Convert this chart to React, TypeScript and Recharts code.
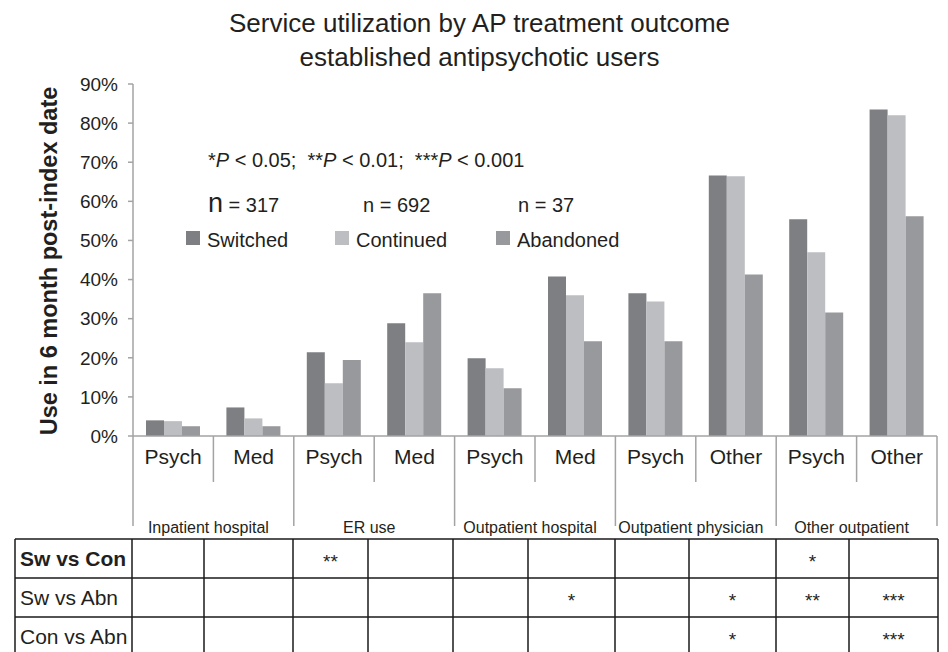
import React from 'react';
import { BarChart, Bar, XAxis, YAxis, Legend } from 'recharts';

// ---------- data ----------
const subCategories = ['Psych', 'Med', 'Psych', 'Med', 'Psych', 'Med', 'Psych', 'Other', 'Psych', 'Other'];
const groups = ['Inpatient hospital', 'ER use', 'Outpatient hospital', 'Outpatient physician', 'Other outpatient'];
const groupIndex = [0, 0, 1, 1, 2, 2, 3, 3, 4, 4];
const switched = [4.0, 7.3, 21.4, 28.8, 19.9, 40.8, 36.5, 66.6, 55.4, 83.5];
const continued = [3.8, 4.5, 13.5, 24.0, 17.3, 36.0, 34.4, 66.4, 47.0, 82.0];
const abandoned = [2.5, 2.5, 19.4, 36.5, 12.2, 24.2, 24.2, 41.3, 31.6, 56.2];
const yTicks = [0, 10, 20, 30, 40, 50, 60, 70, 80, 90];
const seriesNames = ['Switched', 'Continued', 'Abandoned'];
const sampleSizes = ['317', '692', '37'];
const comparisonLabels = ['Sw vs Con', 'Sw vs Abn', 'Con vs Abn'];
const sigSwCon = ['', '', '**', '', '', '', '', '', '*', ''];
const sigSwAbn = ['', '', '', '', '', '*', '', '*', '**', '***'];
const sigConAbn = ['', '', '', '', '', '', '', '*', '', '***'];
const titleLines = ['Service utilization by AP treatment outcome', 'established antipsychotic users'];
const yLabel = 'Use in 6 month post-index date';

// ---------- styles / layout ----------
const W = 948;
const H = 652;
const FONT = '"Liberation Sans", Arial, Helvetica, sans-serif';
const COLORS = ['#7e7f83', '#bdbec2', '#98999d'];
const AXIS = '#a3a3a3';
const TEXT = '#231f20';
const Y_AXIS_W = 133;
const RIGHT = 11;
const BAND = (W - Y_AXIS_W - RIGHT) / subCategories.length;
const tableCols = [15, 132, 204, 293, 368, 453, 528, 615, 689, 776, 849, 938];
const tableRows = [539, 578, 617, 656];

const chartData = subCategories.map((sub, i) => ({
  id: `c${i}`,
  sub,
  group: groups[groupIndex[i]],
  switched: switched[i],
  continued: continued[i],
  abandoned: abandoned[i],
}));

function CategoryTick(props: any) {
  const { x, y, index, payload } = props;
  const half = payload && typeof payload.offset === 'number' && payload.offset > 0 ? payload.offset : BAND / 2;
  const isGroupStart = index === 0 || groupIndex[index] !== groupIndex[index - 1];
  const isLast = index === subCategories.length - 1;
  return (
    <g>
      <text x={x} y={y + 28} textAnchor="middle" fontSize={21} fill={TEXT} fontFamily={FONT}>
        {subCategories[index]}
      </text>
      <line x1={x - half} x2={x - half} y1={y} y2={y + (isGroupStart ? 90 : 46)} stroke={AXIS} strokeWidth={1.5} />
      {isLast && <line x1={x + half} x2={x + half} y1={y} y2={y + 90} stroke={AXIS} strokeWidth={1.5} />}
      {isGroupStart && (
        <text x={x + half - 5} y={y + 97} textAnchor="middle" fontSize={16} fill={TEXT} fontFamily={FONT}>
          {groups[groupIndex[index]]}
        </text>
      )}
    </g>
  );
}

const legendOffsets = [0, 149, 310];

function LegendContent(props: any) {
  const payload = [...(props.payload || [])].sort(
    (a: any, b: any) => seriesNames.indexOf(a.value) - seriesNames.indexOf(b.value)
  );
  return (
    <div style={{ position: 'relative', width: 480, height: 20, fontFamily: FONT }}>
      {payload.map((p: any, i: number) => (
        <div
          key={p.value}
          style={{ position: 'absolute', left: legendOffsets[i], top: 0, display: 'flex', alignItems: 'flex-start', height: 20 }}
        >
          <div style={{ width: 14, height: 14, marginTop: 1, background: p.color }} />
          <span style={{ marginLeft: 7, fontSize: 20, lineHeight: '20px', color: TEXT, whiteSpace: 'nowrap' }}>{p.value}</span>
        </div>
      ))}
    </div>
  );
}

export default function App() {
  const sigRows = [sigSwCon, sigSwAbn, sigConAbn];
  const nb = '\u00a0';
  return (
    <div style={{ position: 'absolute', left: 0, top: 0, width: W, height: H, overflow: 'hidden', background: '#fff', fontFamily: FONT }}>
      <BarChart
        width={W}
        height={H}
        data={chartData}
        margin={{ top: 84, right: RIGHT, bottom: 0, left: 0 }}
        barGap={0}
        barSize={18}
      >
        <XAxis
          dataKey="id"
          interval={0}
          height={216}
          tickSize={0}
          tickMargin={0}
          tickLine={false}
          axisLine={{ stroke: AXIS, strokeWidth: 1.5 }}
          tick={(p: any) => <CategoryTick {...p} />}
        />
        <YAxis
          type="number"
          domain={[0, 90]}
          ticks={yTicks}
          interval={0}
          width={Y_AXIS_W}
          tickSize={5}
          tickMargin={10}
          tickFormatter={(v: number) => `${v}%`}
          tick={{ fontSize: 19, fill: TEXT, fontFamily: FONT }}
          axisLine={{ stroke: AXIS, strokeWidth: 1.5 }}
          tickLine={{ stroke: AXIS, strokeWidth: 1.5 }}
        />
        <Legend
          layout="horizontal"
          verticalAlign="middle"
          align="center"
          itemSorter={null as any}
          content={(p: any) => <LegendContent {...p} />}
          wrapperStyle={{ position: 'absolute', left: 186, top: 230, width: 480, height: 20 }}
        />
        <Bar dataKey="switched" name={seriesNames[0]} fill={COLORS[0]} isAnimationActive={false} />
        <Bar dataKey="continued" name={seriesNames[1]} fill={COLORS[1]} isAnimationActive={false} />
        <Bar dataKey="abandoned" name={seriesNames[2]} fill={COLORS[2]} isAnimationActive={false} />
      </BarChart>
      <svg
        width={W}
        height={H}
        style={{ position: 'absolute', left: 0, top: 0, pointerEvents: 'none', fontFamily: FONT }}
      >
        <text x={479.5} y={32} textAnchor="middle" fontSize={26} fill={TEXT}>{titleLines[0]}</text>
        <text x={479.5} y={66} textAnchor="middle" fontSize={26} fill={TEXT}>{titleLines[1]}</text>
        <text transform="translate(57,261) rotate(-90)" textAnchor="middle" fontSize={23.5} fontWeight="bold" fill={TEXT}>
          {yLabel}
        </text>
        <text x={208} y={167} fontSize={20} fill={TEXT}>
          <tspan>*</tspan>
          <tspan fontStyle="italic">P</tspan>
          <tspan>{` < 0.05;${nb}${nb}**`}</tspan>
          <tspan fontStyle="italic">P</tspan>
          <tspan>{` < 0.01;${nb}${nb}***`}</tspan>
          <tspan fontStyle="italic">P</tspan>
          <tspan>{' < 0.001'}</tspan>
        </text>
        <text x={208} y={212} fontSize={20} fill={TEXT}>
          <tspan fontSize={27}>n</tspan>
          <tspan>{` = ${sampleSizes[0]}`}</tspan>
        </text>
        <text x={363} y={212} fontSize={20} fill={TEXT}>{`n = ${sampleSizes[1]}`}</text>
        <text x={518} y={212} fontSize={20} fill={TEXT}>{`n = ${sampleSizes[2]}`}</text>
        {/* significance table */}
        {tableRows.map((ry) => (
          <line key={`h${ry}`} x1={tableCols[0]} x2={tableCols[tableCols.length - 1]} y1={ry} y2={ry} stroke="#1a1a1a" strokeWidth={1.5} />
        ))}
        {tableCols.map((cx) => (
          <line key={`v${cx}`} x1={cx} x2={cx} y1={tableRows[0]} y2={tableRows[tableRows.length - 1]} stroke="#1a1a1a" strokeWidth={1.5} />
        ))}
        {comparisonLabels.map((lab, r) => (
          <text key={lab} x={20} y={tableRows[r] + 27} fontSize={21} fontWeight={r === 0 ? 'bold' : 'normal'} fill={TEXT}>
            {lab}
          </text>
        ))}
        {sigRows.map((row, r) =>
          row.map((s, c) =>
            s ? (
              <text
                key={`s${r}-${c}`}
                x={(tableCols[c + 1] + tableCols[c + 2]) / 2}
                y={tableRows[r] + 29}
                textAnchor="middle"
                fontSize={19}
                fill={TEXT}
              >
                {s}
              </text>
            ) : null
          )
        )}
      </svg>
    </div>
  );
}
